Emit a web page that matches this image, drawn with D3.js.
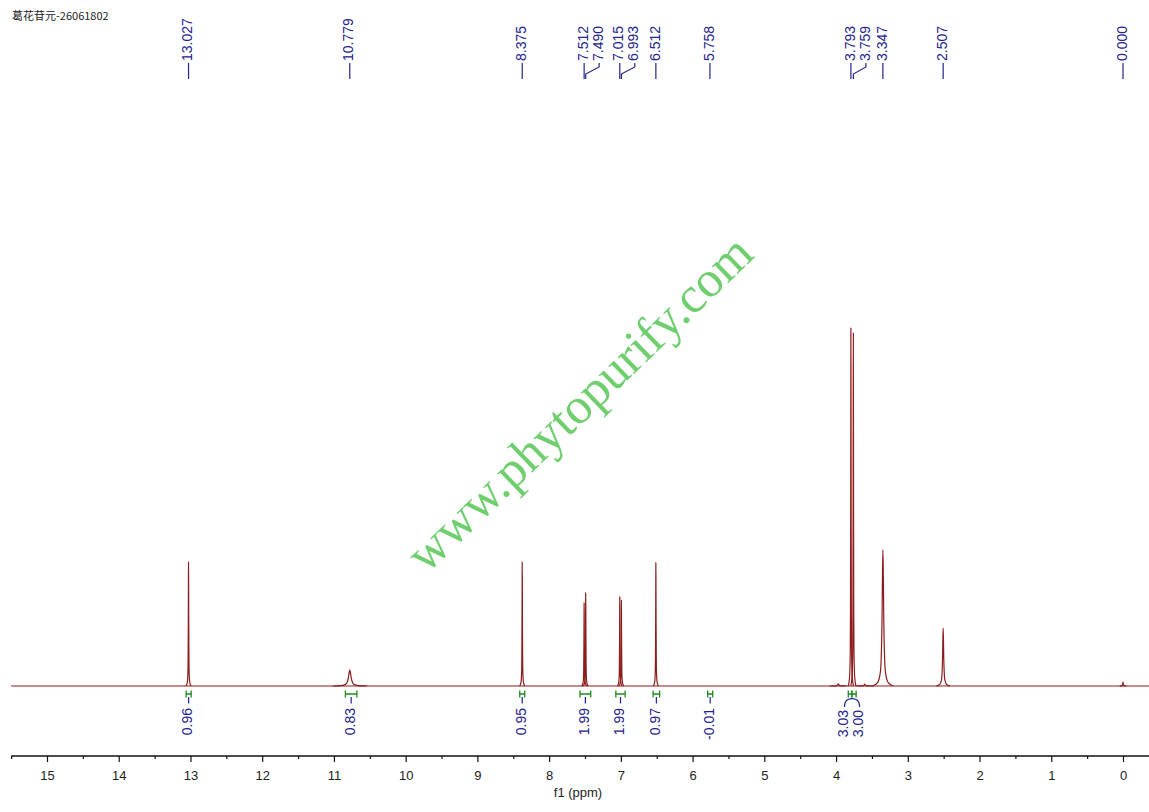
<!DOCTYPE html>
<html><head><meta charset="utf-8">
<script src="https://cdn.jsdelivr.net/npm/d3@7"></script>
<style>body{margin:0;background:#fff}svg{display:block}</style>
</head><body>
<svg id="c" width="1149" height="812"></svg>
<script>
// ---- data ----
const title = "葛花苷元-26061802";
const axisLabel = "f1 (ppm)";
const watermark = "www.phytopurify.com";
const majorTicks = [15,14,13,12,11,10,9,8,7,6,5,4,3,2,1,0];
const minorTicks = [15.5,14.5,13.5,12.5,11.5,10.5,9.5,8.5,7.5,6.5,5.5,4.5,3.5,2.5,1.5,0.5];
// peaks: chemical shift (ppm), relative height (tallest = 100), half-width (ppm)
const peakPpm    = [13.027, 10.779, 8.375, 7.512, 7.490, 7.015, 6.993, 6.512, 3.97, 3.793, 3.759, 3.60, 3.347, 2.507, 0.000];
const peakHeight = [34.6,   4.5,    34.6,  23.2,  26.0,  24.9,  24.0,  34.4,  0.6,  100,   98.6,  0.5,  38.0,  16.2,  1.1];
const peakHwhm   = [0.003,  0.02,   0.003, 0.003, 0.003, 0.003, 0.003, 0.003, 0.01, 0.003, 0.003, 0.01, 0.012, 0.008, 0.004];
// picked peak labels
const labelPpm = [13.027, 10.779, 8.375, 7.512, 7.490, 7.015, 6.993, 6.512, 5.758, 3.793, 3.759, 3.347, 2.507, 0.000];
// integrals
const integralFrom  = [13.06, 10.84, 8.41, 7.57, 7.07, 6.55, 5.79, 3.83, 3.78];
const integralTo    = [12.99, 10.68, 8.34, 7.42, 6.94, 6.46, 5.72, 3.78, 3.72];
const integralValue = ["0.96","0.83","0.95","1.99","1.99","0.97","-0.01","3.03","3.00"];

// ---- drawing ----
const svg = d3.select("#c");
const W = 1149;
const x = d3.scaleLinear().domain([15, 0]).range([47, 1123]);
const y = d3.scaleLinear().domain([0, 100]).range([686, 328]);
const xLeft = x(15.5);

const specColor = "#8c1c1c";
const labelColor = "#23238c";
const intColor = "#1e8c1e";
const sans = "'Liberation Sans', Arial, sans-serif";

// title
svg.append("text").attr("x", 12).attr("y", 20)
  .attr("font-family", "'Noto Sans CJK SC', 'Liberation Sans', sans-serif")
  .attr("font-size", 11).attr("fill", "#222").text(title);

// watermark
svg.append("text")
  .attr("transform", "translate(583,407) rotate(-44)")
  .attr("text-anchor", "middle").attr("dominant-baseline", "middle")
  .attr("font-family", "'Liberation Serif', 'Times New Roman', serif")
  .attr("font-size", 51).attr("fill", "#6fcf6f")
  .text(watermark);

// spectrum baseline
const line = d3.line().x(d => x(d[0])).y(d => y(d[1]));
svg.append("path")
  .datum([[x.invert(xLeft), 0], [x.invert(W), 0]])
  .attr("d", line).attr("fill", "none").attr("stroke", specColor).attr("stroke-width", 1.2);

// peaks (lorentzian line shape sampled at fixed offsets of the half-width, feet on the baseline)
const offs = [-12,-6,-3,-2,-1,-0.5,0,0.5,1,2,3,6,12];
const peaks = peakPpm.map((p, i) => offs.map(o => [p + o * peakHwhm[i], Math.abs(o) === 12 ? 0 : peakHeight[i] / (1 + o * o)]));
svg.append("g").selectAll("path").data(peaks).join("path")
  .attr("d", d3.line().x(d => x(d[0])).y(d => y(d[1])).curve(d3.curveMonotoneX))
  .attr("fill", "none").attr("stroke", specColor).attr("stroke-width", 1.2);

// axis
const axisY = 756;
svg.append("line").attr("x1", xLeft).attr("x2", W).attr("y1", axisY).attr("y2", axisY)
  .attr("stroke", "#111").attr("stroke-width", 1.3);
const gMaj = svg.append("g").attr("transform", `translate(0,${axisY})`)
  .call(d3.axisBottom(x).tickValues(majorTicks).tickSize(6).tickPadding(9).tickFormat(d3.format("d")));
const gMin = svg.append("g").attr("transform", `translate(0,${axisY})`)
  .call(d3.axisBottom(x).tickValues(minorTicks).tickSize(3).tickFormat(""));
[gMaj, gMin].forEach(g => {
  g.select(".domain").remove();
  g.selectAll("line").attr("stroke", "#111").attr("stroke-width", 1.2);
  g.selectAll("text").attr("font-family", sans).attr("font-size", 13).attr("fill", "#222");
});
svg.append("text").attr("x", 578).attr("y", 797).attr("text-anchor", "middle")
  .attr("font-family", sans).attr("font-size", 13).attr("fill", "#222").text(axisLabel);

// peak labels (pushed right when crowded)
const fmt = d3.format(".3f");
let prev = -1e9;
const lab = labelPpm.map(p => {
  const px = x(p);
  const lx = Math.max(px, prev + 15);
  prev = lx;
  return { p, px, lx };
});
const gl = svg.append("g");
gl.selectAll("path").data(lab).join("path")
  .attr("d", d => `M${d.lx},63 V67 L${d.px},74 V79`)
  .attr("fill", "none").attr("stroke", labelColor).attr("stroke-width", 1.2);
gl.selectAll("text").data(lab).join("text")
  .attr("transform", d => `translate(${d.lx},61) rotate(-90)`)
  .attr("dominant-baseline", "middle").attr("text-anchor", "start")
  .attr("font-family", sans).attr("font-size", 14).attr("fill", labelColor)
  .text(d => fmt(d.p));

// integrals
const ints = integralValue.map((v, i) => {
  const x1 = x(integralFrom[i]), x2 = x(integralTo[i]);
  return { v, x1, x2, cx: (x1 + x2) / 2 };
});
// cluster crowded integrals and spread their labels symmetrically
let clusters = [];
ints.forEach(d => {
  const c = clusters[clusters.length - 1];
  if (c && d.cx - c[c.length - 1].cx < 12) c.push(d); else clusters.push([d]);
});
clusters.forEach(c => {
  const m = d3.mean(c, d => d.cx);
  c.forEach((d, k) => { d.lx = m + (k - (c.length - 1) / 2) * 15; d.grp = c.length > 1; d.m = m; });
});
const gi = svg.append("g");
gi.selectAll("path.br").data(ints).join("path").attr("class", "br")
  .attr("d", d => `M${d.x1},690.5 V697.5 M${d.x1},694 H${d.x2} M${d.x2},690.5 V697.5`)
  .attr("fill", "none").attr("stroke", intColor).attr("stroke-width", 1.3);
// leaders: single ones get a short tick, clusters get one arch joining their labels
gi.selectAll("path.ld").data(clusters).join("path").attr("class", "ld")
  .attr("d", c => {
    if (c.length === 1) return `M${c[0].cx},697 V703.5`;
    const a = c[0].lx, b = c[c.length - 1].lx, m = c[0].m;
    return `M${a},707 C${a},699 ${m - 3},699 ${m},698.5 C${m + 3},699 ${b},699 ${b},707`;
  })
  .attr("fill", "none").attr("stroke", labelColor).attr("stroke-width", 1.2);
gi.selectAll("text").data(ints).join("text")
  .attr("transform", d => `translate(${d.lx},${d.grp ? 710 : 708}) rotate(-90)`)
  .attr("dominant-baseline", "middle").attr("text-anchor", "end")
  .attr("font-family", sans).attr("font-size", 14).attr("fill", labelColor)
  .text(d => d.v);
</script>
</body></html>
